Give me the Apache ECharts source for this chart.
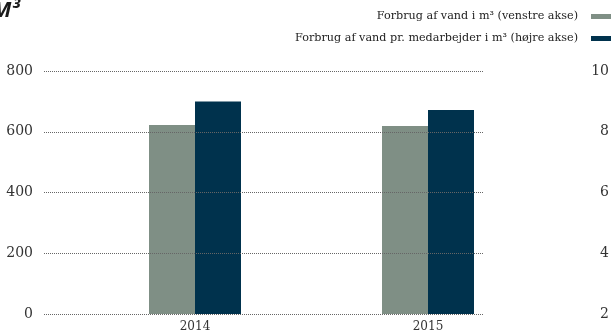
<!DOCTYPE html>
<html>
<head>
<meta charset="utf-8">
<script src="https://cdn.jsdelivr.net/npm/echarts@6/dist/echarts.min.js"></script>
<style>html,body{margin:0;padding:0;background:#fff;}#c{width:614px;height:333px;}</style>
</head>
<body>
<div id="c"></div>
<script>
var categories = ['2014', '2015'];
var waterTotal = [622, 619];
var waterPerEmployee = [9.0, 8.72];
var leftTicks = [0, 800, 200];
var rightTicks = [2, 10, 2];
var seriesNames = ['Forbrug af vand i m³ (venstre akse)', 'Forbrug af vand pr. medarbejder i m³ (højre akse)'];

var serif = '"DejaVu Serif", "Liberation Serif", serif';
var chart = echarts.init(document.getElementById('c'), null, {renderer: 'canvas'});
chart.setOption({
  animation: false,
  color: ['#7f8f85', '#00324d'],
  title: {
    text: 'M³', left: -13, top: -5,
    textStyle: {fontSize: 22, fontWeight: 'bold', fontStyle: 'italic', fontFamily: '"Open Sans", sans-serif', color: '#1a1a1a'}
  },
  legend: {
    orient: 'vertical', right: 3, top: 11, align: 'right', padding: 0,
    itemWidth: 20, itemHeight: 5, itemGap: 11,
    icon: 'rect',
    textStyle: {fontFamily: serif, fontSize: 11.2, color: '#222', padding: [0, 8, 0, 0]},
    data: seriesNames
  },
  grid: [
    {left: 44, right: 130, top: 71, bottom: 19},
    {left: 78.5, right: 69.5, top: 71, bottom: 19}
  ],
  xAxis: [
    {gridIndex: 0, type: 'category', data: categories, show: false},
    {gridIndex: 1, type: 'category', data: categories,
     axisLine: {show: false}, axisTick: {show: false},
     axisLabel: {margin: 7, fontFamily: serif, fontSize: 12, color: '#333'}}
  ],
  yAxis: [
    {gridIndex: 0, type: 'value', position: 'left', min: leftTicks[0], max: leftTicks[1], interval: leftTicks[2], z: 10,
     axisLine: {show: false}, axisTick: {show: false},
     axisLabel: {margin: 11, fontFamily: serif, fontSize: 14, color: '#333'},
     splitLine: {show: true, lineStyle: {type: [1, 1], color: '#666', width: 1}}},
    {gridIndex: 0, type: 'value', position: 'right', min: rightTicks[0], max: rightTicks[1], interval: rightTicks[2],
     axisLine: {show: false}, axisTick: {show: false},
     axisLabel: {margin: 125, align: 'right', fontFamily: serif, fontSize: 14, color: '#333'},
     splitLine: {show: false}},
    {gridIndex: 1, type: 'value', min: leftTicks[0], max: leftTicks[1], show: false},
    {gridIndex: 1, type: 'value', min: rightTicks[0], max: rightTicks[1], show: false}
  ],
  series: [
    {name: seriesNames[0], type: 'bar', xAxisIndex: 1, yAxisIndex: 2, data: waterTotal, barWidth: 46, barGap: '0%'},
    {name: seriesNames[1], type: 'bar', xAxisIndex: 1, yAxisIndex: 3, data: waterPerEmployee, barWidth: 46, barGap: '0%'}
  ]
});
</script>
</body>
</html>
